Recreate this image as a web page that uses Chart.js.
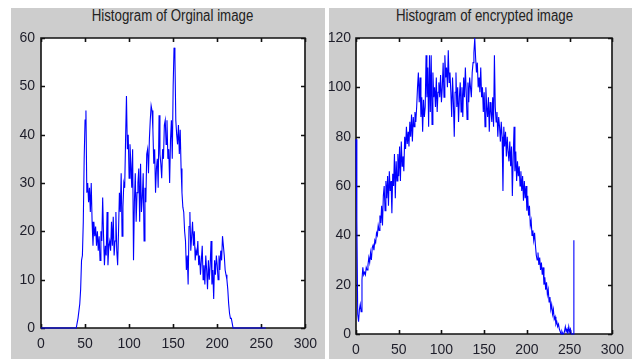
<!DOCTYPE html>
<html><head><meta charset="utf-8">
<script src="https://cdn.jsdelivr.net/npm/chart.js@4.4.0/dist/chart.umd.min.js"></script>
<style>
html,body{margin:0;padding:0;background:#fff;width:632px;height:359px;overflow:hidden;}
.panel{position:absolute;background:#cdcdcd;}
.title{position:absolute;font-family:"Liberation Sans",Arial,sans-serif;font-size:16px;line-height:16px;color:#222;text-align:center;white-space:nowrap;transform:scaleX(0.83);transform-origin:50% 50%;}
canvas{position:absolute;left:0;top:0;}
.wrap{position:absolute;top:0;}
</style></head><body>
<div class="panel" style="left:11px;top:8px;width:314px;height:351px"></div>
<div class="panel" style="left:329px;top:8px;width:303px;height:351px"></div>
<div class="title" style="left:41px;width:263px;top:8px;">Histogram of Orginal image</div>
<div class="title" style="left:356px;width:257px;top:8px;">Histogram of encrypted image</div>
<div class="wrap" style="left:0;width:325px;height:359px"><canvas id="c1" width="325" height="359"></canvas></div>
<div class="wrap" style="left:320px;width:312px;height:359px"><canvas id="c2" width="312" height="359"></canvas></div>
<script>
// Histogram counts per grey level (0..255)
const originalCounts = [
0,0,0,0,0,0,0,0,0,0,0,0,0,0,0,0,
0,0,0,0,0,0,0,0,0,0,0,0,0,0,0,0,
0,0,0,0,0,0,0,0,0,1,2,2,5,8,14,15,
22,35,43,45,28,30,26,29,24,30,22,17,22,19,21,17,
20,16,19,14,20,18,27,19,13,17,15,24,13,17,18,16,
22,17,23,15,18,24,16,13,20,28,24,32,19,25,30,29,
39,48,37,40,31,38,34,29,37,14,26,32,22,28,30,33,
22,34,24,27,32,18,29,26,36,37,32,39,43,46,45,41,
34,37,28,33,35,29,44,36,34,31,37,35,42,43,38,43,
35,37,30,39,43,35,50,58,56,43,40,38,42,36,41,33,
28,25,24,20,18,12,15,9,21,24,16,19,22,17,20,14,
16,15,18,13,15,11,14,17,10,13,9,15,12,8,14,10,
13,18,9,12,6,14,11,15,13,10,15,12,16,14,19,17,
15,12,11,10,8,5,3,2,2,1,0,0,0,0,0,0,
0,0,0,0,0,0,0,0,0,0,0,0,0,0,0,0,
0,0,0,0,0,0,0,0,0,0,0,0,0,0,0,0
];
const encryptedCounts = [
79,46,8,5,10,12,9,22,27,24,25,24,27,26,28,31,
29,33,30,35,36,34,38,37,41,40,44,42,48,45,52,44,
56,60,50,62,55,64,52,66,58,62,49,65,60,73,55,70,
62,73,64,76,62,78,68,72,66,80,75,84,77,82,76,86,
80,89,78,88,84,90,86,92,100,106,94,104,88,96,82,95,
88,92,113,96,108,84,113,90,113,85,106,96,100,92,104,90,
98,102,96,105,94,100,110,96,113,104,108,100,115,102,106,98,
88,104,94,80,98,106,92,100,86,96,102,90,100,88,104,96,
108,98,87,102,94,104,100,96,106,110,114,120,112,106,110,100,
104,98,108,96,100,90,98,84,100,92,88,96,82,94,90,86,
96,84,113,92,86,90,80,88,84,78,86,80,58,84,76,82,
72,80,74,70,78,68,76,56,72,84,66,74,62,70,64,68,
60,66,58,64,54,62,55,60,50,56,48,52,44,46,40,42,
38,41,36,32,30,33,28,31,26,29,24,27,20,23,18,21,
16,18,13,15,10,12,8,10,6,7,4,5,3,4,2,1,
0,1,0,0,1,3,1,2,0,3,1,2,0,0,0,38
];
const xTicks = [0,50,100,150,200,250,300];
const yTicksOriginal = [0,10,20,30,40,50,60];
const yTicksEncrypted = [0,20,40,60,80,100,120];

const tickFont = {family:'"Liberation Sans",Arial,sans-serif', size:14};
const tickColor = '#1e1e2a';

const boxPlugin = {
  id:'matlabBox',
  beforeDraw(chart){
    const {ctx, chartArea:a} = chart;
    ctx.save(); ctx.fillStyle='#fff';
    ctx.fillRect(a.left,a.top,a.right-a.left,a.bottom-a.top);
    ctx.restore();
  },
  beforeDatasetsDraw(chart){
    const {ctx, chartArea:a, scales:{x,y}} = chart;
    ctx.save();
    ctx.strokeStyle='#111'; ctx.lineWidth=1.6;
    const L=Math.round(a.left), R=Math.round(a.right), T=Math.round(a.top), B=Math.round(a.bottom);
    ctx.beginPath();
    ctx.rect(L,T,R-L,B-T);
    const tl=4;
    x.ticks.forEach(t=>{const p=Math.round(x.getPixelForValue(t.value))+0.5; ctx.moveTo(p,B); ctx.lineTo(p,B-tl); ctx.moveTo(p,T); ctx.lineTo(p,T+tl);});
    y.ticks.forEach(t=>{const p=Math.round(y.getPixelForValue(t.value))+0.5; ctx.moveTo(L,p); ctx.lineTo(L+tl,p); ctx.moveTo(R,p); ctx.lineTo(R-tl,p);});
    ctx.stroke(); ctx.restore();
  }
};

function makeChart(id, counts, yTicks, pad, xH, yW, xPad, yPad){
  const pts = counts.map((v,i)=>({x:i,y:v}));
  return new Chart(document.getElementById(id), {
    type:'line',
    data:{datasets:[{data:pts, borderColor:'#0000ff', borderWidth:1.1, pointRadius:0, tension:0, fill:false, clip:3}]},
    options:{
      responsive:false, animation:false,
      layout:{padding:pad},
      plugins:{legend:{display:false}, tooltip:{enabled:false}, title:{display:false}},
      scales:{
        x:{type:'linear', min:xTicks[0], max:xTicks[xTicks.length-1],
           afterBuildTicks(s){s.ticks = xTicks.map(v=>({value:v}));},
           afterFit(s){s.height = xH;},
           grid:{display:false, drawTicks:false}, border:{display:false},
           ticks:{font:tickFont, color:tickColor, padding:xPad, maxRotation:0, autoSkip:false}},
        y:{type:'linear', min:yTicks[0], max:yTicks[yTicks.length-1],
           afterBuildTicks(s){s.ticks = yTicks.map(v=>({value:v}));},
           afterFit(s){s.width = yW;},
           grid:{display:false, drawTicks:false}, border:{display:false},
           ticks:{font:tickFont, color:tickColor, padding:yPad, autoSkip:false}}
      }
    },
    plugins:[boxPlugin]
  });
}
makeChart('c1', originalCounts, yTicksOriginal, {left:0,top:38,right:17,bottom:0}, 31, 41, 8, 6);
makeChart('c2', encryptedCounts, yTicksEncrypted, {left:0,top:38,right:15,bottom:0}, 25, 36, 8, 5);
</script>
</body></html>
